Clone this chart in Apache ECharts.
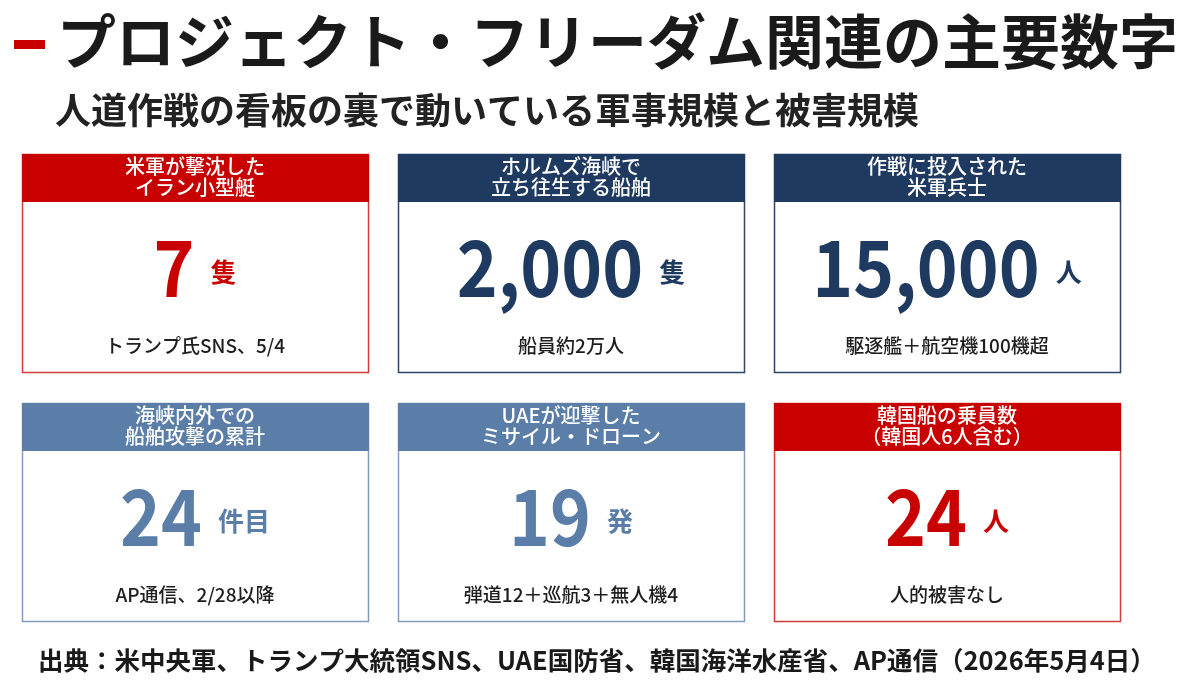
<!DOCTYPE html>
<html>
<head>
<meta charset="utf-8">
<script src="https://cdn.jsdelivr.net/npm/echarts@6/dist/echarts.min.js"></script>
<style>
  html, body { margin: 0; padding: 0; background: #fff; }
  #main { width: 1200px; height: 683px; }
</style>
</head>
<body>
<div id="main"></div>
<script>
// card contents, in reading order
const headers = [
  '米軍が撃沈した\nイラン小型艇',
  'ホルムズ海峡で\n立ち往生する船舶',
  '作戦に投入された\n米軍兵士',
  '海峡内外での\n船舶攻撃の累計',
  'UAEが迎撃した\nミサイル・ドローン',
  '韓国船の乗員数\n（韓国人6人含む）'
];
const values = [7, 2000, 15000, 24, 19, 24];
const units = ['隻', '隻', '人', '件目', '発', '人'];
const notes = [
  'トランプ氏SNS、5/4',
  '船員約2万人',
  '駆逐艦＋航空機100機超',
  'AP通信、2/28以降',
  '弾道12＋巡航3＋無人機4',
  '人的被害なし'
];
const tones = ['red', 'navy', 'navy', 'steel', 'steel', 'red'];

const title = 'プロジェクト・フリーダム関連の主要数字';
const subtitle = '人道作戦の看板の裏で動いている軍事規模と被害規模';
const source = '出典：米中央軍、トランプ大統領SNS、UAE国防省、韓国海洋水産省、AP通信（2026年5月4日）';

const palette = {
  red:   { head: '#c80000', num: '#c80000', border: '#d23b3b' },
  navy:  { head: '#1f3a60', num: '#1f3a60', border: '#2d4668' },
  steel: { head: '#5a7ea7', num: '#5a7ea7', border: '#7f9cbd' }
};

const FONT = '"Noto Sans CJK JP", "Noto Sans", sans-serif';
const NUM_FONT = 'bold 78px ' + FONT;
const UNIT_FONT = 'bold 26px ' + FONT;
const NUM_SQUEEZE = 0.89;   // the digits in the original are narrower

const ctx = document.createElement('canvas').getContext('2d');
function textWidth(s, font) {
  ctx.font = font;
  return ctx.measureText(s).width;
}

const chart = echarts.init(document.getElementById('main'));

// grid of cards
const cardW = 346, cardH = 218, headH = 48;
const colX = [22, 398, 774];
const rowY = [154, 403];

const elements = [];

// title bar + title
elements.push({
  type: 'rect', shape: { x: 14, y: 40, width: 31, height: 9 },
  style: { fill: '#c80000' }
});
elements.push({
  type: 'text', x: 57, y: 42,
  style: { text: title, font: 'bold 59px ' + FONT, fill: '#1a1a1a', textVerticalAlign: 'middle' }
});
elements.push({
  type: 'text', x: 55, y: 110,
  style: { text: subtitle, font: 'bold 36px ' + FONT, fill: '#222', textVerticalAlign: 'middle' }
});

headers.forEach(function (h, i) {
  const x = colX[i % 3], y = rowY[Math.floor(i / 3)];
  const c = palette[tones[i]];
  const cx = x + cardW / 2;
  elements.push({
    type: 'rect', shape: { x: x + 0.5, y: y + 0.5, width: cardW, height: cardH },
    style: { fill: '#fff', stroke: c.border, lineWidth: 1.5 }
  });
  elements.push({
    type: 'rect', shape: { x: x, y: y, width: cardW + 1, height: headH },
    style: { fill: c.head }
  });
  elements.push({
    type: 'text', x: cx, y: y + headH / 2 - 1,
    style: {
      text: h, font: '500 20px ' + FONT, fill: '#fff', lineHeight: 21,
      textAlign: 'center', textVerticalAlign: 'middle'
    }
  });

  // big number + unit, centred as a pair
  const numText = values[i].toLocaleString('en-US');
  const numW = textWidth(numText, NUM_FONT) * NUM_SQUEEZE;
  const unitW = textWidth(units[i], UNIT_FONT);
  const gap = 16;
  const left = cx - (numW + gap + unitW) / 2;
  elements.push({
    type: 'text', x: left, y: y + 113, scaleX: NUM_SQUEEZE,
    style: {
      text: numText, font: NUM_FONT, fill: c.num,
      textAlign: 'left', textVerticalAlign: 'middle'
    }
  });
  elements.push({
    type: 'text', x: left + numW + gap, y: y + 118,
    style: {
      text: units[i], font: UNIT_FONT, fill: c.num,
      textAlign: 'left', textVerticalAlign: 'middle'
    }
  });

  elements.push({
    type: 'text', x: cx, y: y + 192,
    style: {
      text: notes[i], font: '500 19px ' + FONT, fill: '#1e1e1e',
      textAlign: 'center', textVerticalAlign: 'middle'
    }
  });
});

elements.push({
  type: 'text', x: 38, y: 660,
  style: { text: source, font: 'bold 25.5px ' + FONT, fill: '#1a1a1a', textVerticalAlign: 'middle' }
});

chart.setOption({
  backgroundColor: '#ffffff',
  animation: false,
  graphic: { elements: elements }
});
</script>
</body>
</html>
